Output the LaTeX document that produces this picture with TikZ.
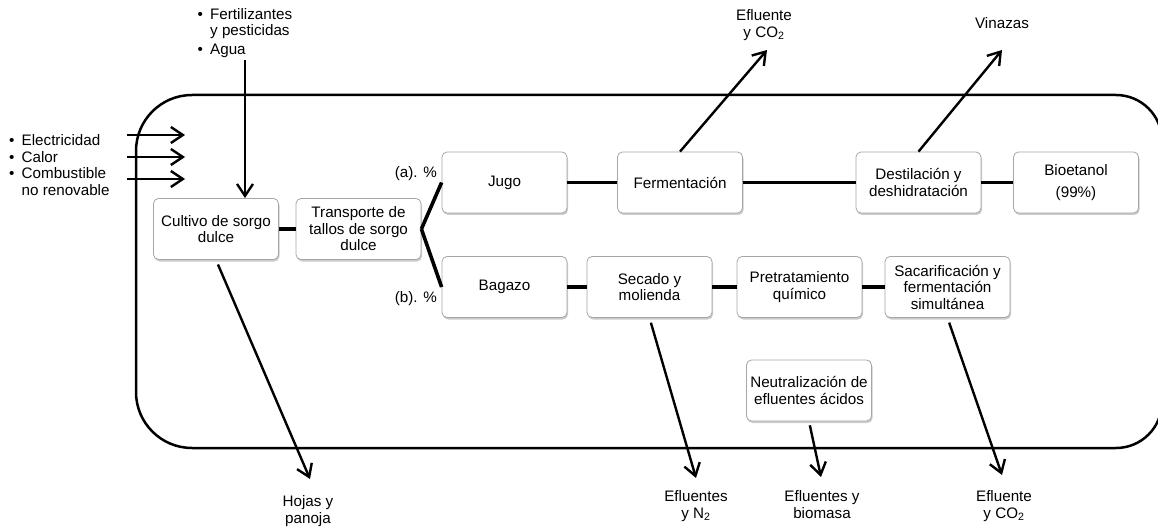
\documentclass[tikz,border=0pt]{standalone}
\usepackage{fontspec}
\setmainfont{Liberation Sans}
\usetikzlibrary{arrows.meta,shadows}
\newcommand{\bul}{\makebox[12.5pt][l]{\textbullet}}
\begin{document}
\begin{tikzpicture}[x=1pt,y=-1pt,
  font=\fontsize{15.2}{16.5}\selectfont,
  stage/.style={draw=black!35, line width=0.8pt, fill=white, rounded corners=5pt,
    minimum width=125pt, minimum height=61pt, align=center, inner sep=1pt,
    drop shadow={shadow xshift=1pt, shadow yshift=-2pt, fill=black!45, opacity=0.45}},
  link/.style={line width=3.6pt},
  flow/.style={line width=2.4pt, -{Straight Barb[length=12pt,width=16pt,line width=2.4pt]}},
  bigframe/.style={line width=2.5pt},
  lbl/.style={align=center, inner sep=0pt},
]
\useasboundingbox (0,0) rectangle (1158,529);

% system boundary
\draw[bigframe] (600,448) [rounded corners=56pt] -- (136,448) -- (136,95) -- (600,95)
  [rounded corners=46pt] -- (1162,95) -- (1162,448) -- (600,448);

% process stages
\node[stage] (cult) at (216,229)   {Cultivo de sorgo\\dulce};
\node[stage] (trans) at (358.5,229) {Transporte de\\tallos de sorgo\\dulce};
\node[stage] (jugo) at (504.5,182.5) {Jugo};
\node[stage] (ferm) at (680,182.5)   {Fermentación};
\node[stage] (dest) at (918.5,182.5) {Destilación y\\deshidratación};
\node[stage] (bio)  at (1076,182.5)  {Bioetanol\\[5pt](99\%)};
\node[stage] (bag)  at (504.5,287)   {Bagazo};
\node[stage] (sec)  at (649.5,287)   {Secado y\\molienda};
\node[stage] (pre)  at (799.5,287)   {Pretratamiento\\químico};
\node[stage] (sac)  at (947.5,287)   {Sacarificación y\\fermentación\\simultánea};
\node[stage] (neu)  at (809,390.5)   {Neutralización de\\efluentes ácidos};

% split fractions
\node[lbl, anchor=east] (pa) at (437,174) {(a). \%};
\node[lbl, anchor=east] (pb) at (437,299) {(b). \%};

% links between stages
\draw[link] (cult) -- (trans);
\draw[link] (trans.east) -- (jugo.west);
\draw[link] (trans.east) -- (bag.west);
\draw[link] (jugo) -- (ferm);
\draw[link] (ferm) -- (dest);
\draw[link] (dest) -- (bio);
\draw[link] (bag) -- (sec);
\draw[link] (sec) -- (pre);
\draw[link] (pre) -- (sac);

% inputs
\node[lbl, align=left, anchor=west] (inputs) at (9,165)
  {\fontsize{15.2}{18}\selectfont\bul Electricidad\\\bul Calor\\\bul Combustible\\\hspace*{12.5pt}no renovable};
\node[lbl, align=left, anchor=west] (agro) at (197.5,33)
  {\fontsize{15.2}{18}\selectfont\bul Fertilizantes\\\hspace*{12.5pt}y pesticidas\\[2pt]\bul Agua};

\coordinate (e1a) at (127,135); \coordinate (e1b) at (185,135);
\coordinate (e2a) at (127,157); \coordinate (e2b) at (185,157);
\coordinate (e3a) at (127,179); \coordinate (e3b) at (185,179);
\coordinate (aguas) at (245,60);
\draw[flow] (e1a) -- (e1b);
\draw[flow] (e2a) -- (e2b);
\draw[flow] (e3a) -- (e3b);
\draw[flow] (aguas) -- (cult.north -| aguas);

% outputs
\node[lbl] (ocoa) at (764,25)  {Efluente\\y CO\textsubscript{2}};
\node[lbl] (ovin) at (1002,23) {Vinazas};
\node[lbl] (ohoj) at (308,511) {Hojas y\\panoja};
\node[lbl] (on2)  at (696,506) {Efluentes\\y N\textsubscript{2}};
\node[lbl] (obio) at (822,504.5) {Efluentes y\\biomasa};
\node[lbl] (ocob) at (1004,506) {Efluente\\y CO\textsubscript{2}};

\coordinate (tcoa) at (767,50);
\coordinate (tvin) at (1002,50);
\coordinate (thoj) at (310,479);
\coordinate (tn2)  at (696,478);
\coordinate (tbio) at (821,477);
\coordinate (tcob) at (1002,475);
\draw[flow] (ferm.north) -- (tcoa);
\draw[flow] (dest.north) -- (tvin);
\draw[flow, shorten <=5pt] (cult.south) -- (thoj);
\draw[flow, shorten <=5pt] (sec.south) -- (tn2);
\draw[flow, shorten <=4pt] (neu.south) -- (tbio);
\draw[flow, shorten <=5pt] (sac.south) -- (tcob);
\end{tikzpicture}
\end{document}
